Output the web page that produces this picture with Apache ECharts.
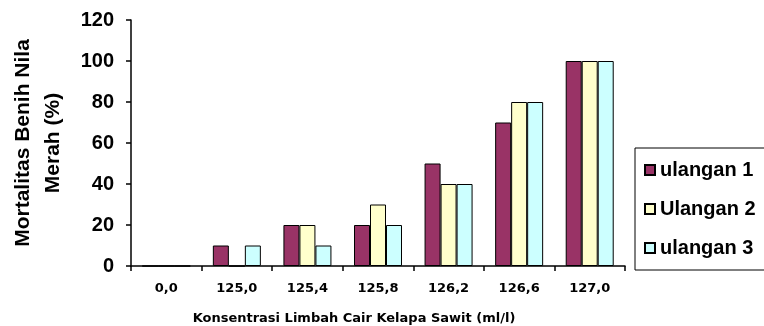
<!DOCTYPE html>
<html>
<head>
<meta charset="utf-8">
<script src="https://cdn.jsdelivr.net/npm/echarts@6/dist/echarts.min.js"></script>
<style>
    html, body { margin: 0; padding: 0; background: #fff; }
    #mortalitas-chart { width: 764px; height: 326px; }
</style>
</head>
<body>
<div id="mortalitas-chart"></div>
<script>
    'use strict'

    var categories = ['0,0', '125,0', '125,4', '125,8', '126,2', '126,6', '127,0'];
    var seriesNames = ['ulangan 1', 'Ulangan 2', 'ulangan 3'];
    var ulangan1 = [0, 10, 20, 20, 50, 70, 100];
    var ulangan2 = [0, 0, 20, 30, 40, 80, 100];
    var ulangan3 = [0, 10, 10, 20, 40, 80, 100];
    var yTicks = [0, 20, 40, 60, 80, 100, 120];

    var colors = ['#993366', '#FFFFCC', '#CCFFFF'];
    var values = [ulangan1, ulangan2, ulangan3];

    var dom = document.getElementById('mortalitas-chart');
    var mortalitasChart = echarts.init(dom);
    var option;

    var bars = seriesNames.map(function (name, i) {
        return {
            name: name,
            type: 'bar',
            data: values[i],
            barWidth: 16,
            barGap: '0%',
            itemStyle: {
                color: colors[i],
                borderColor: '#000',
                borderWidth: 1
            }
        };
    });

    option = {
        animation: false,
        backgroundColor: '#fff',
        grid: {
            left: 131,
            right: 139,
            top: 20,
            bottom: 60,
            containLabel: false,
            outerBoundsMode: 'none'
        },
        legend: {
            orient: 'vertical',
            left: 635,
            top: 148,
            padding: [12, 40, 12, 9],
            itemGap: 19,
            itemWidth: 10,
            itemHeight: 10,
            icon: 'rect',
            borderColor: '#000',
            borderWidth: 1,
            textStyle: {
                fontFamily: 'Liberation Sans, Arial, sans-serif',
                fontWeight: 'bold',
                fontSize: 20,
                color: '#000'
            },
            data: seriesNames
        },
        xAxis: {
            type: 'category',
            data: categories,
            name: 'Konsentrasi Limbah Cair Kelapa Sawit (ml/l)',
            nameLocation: 'middle',
            nameGap: 46,
            nameTextStyle: {
                fontFamily: 'DejaVu Sans, sans-serif',
                fontWeight: 'bold',
                fontSize: 13,
                color: '#000',
                padding: [0, 48, 0, 0]
            },
            axisLine: { lineStyle: { color: '#000', width: 1.5 } },
            axisTick: { show: true, length: 5, lineStyle: { color: '#000', width: 1.5 } },
            axisLabel: {
                margin: 16,
                fontFamily: 'DejaVu Sans, sans-serif',
                fontWeight: 'bold',
                fontSize: 13,
                color: '#000'
            }
        },
        yAxis: {
            type: 'value',
            min: yTicks[0],
            max: yTicks[yTicks.length - 1],
            interval: 20,
            name: 'Mortalitas Benih Nila\nMerah (%)',
            nameLocation: 'middle',
            nameGap: 63,
            nameTextStyle: {
                fontFamily: 'Liberation Sans, Arial, sans-serif',
                fontWeight: 'bold',
                fontSize: 21,
                lineHeight: 30,
                color: '#000'
            },
            splitLine: { show: false },
            axisLine: { show: true, lineStyle: { color: '#000', width: 1.5 } },
            axisTick: { show: true, length: 5, lineStyle: { color: '#000', width: 1.5 } },
            axisLabel: {
                margin: 17,
                fontFamily: 'Liberation Sans, Arial, sans-serif',
                fontWeight: 'bold',
                fontSize: 20,
                color: '#000'
            }
        },
        series: bars
    };

    if (option && typeof option === 'object') {
        mortalitasChart.setOption(option);
    }
</script>
</body>
</html>
